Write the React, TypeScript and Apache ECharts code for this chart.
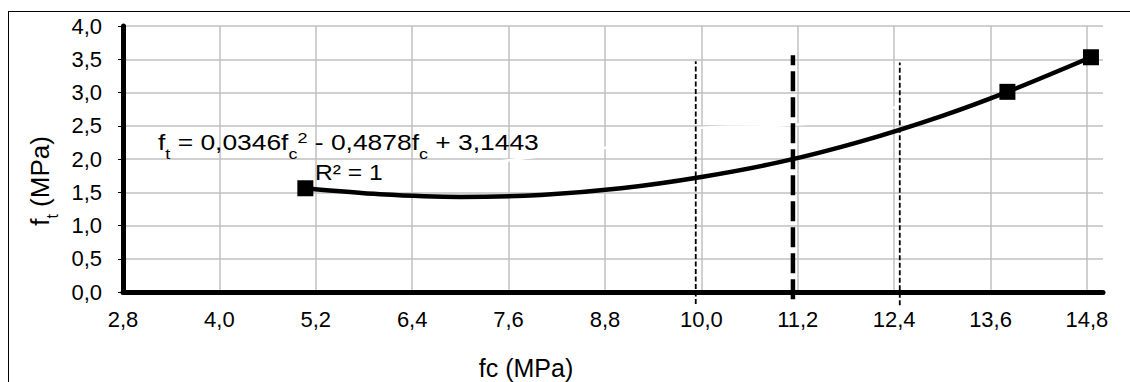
import React, { useEffect, useRef } from "react";
import * as echarts from "echarts";

const FONT = "'Liberation Sans', Arial, sans-serif";

// x tick labels (MPa)
const xTicks = [2.8, 4.0, 5.2, 6.4, 7.6, 8.8, 10.0, 11.2, 12.4, 13.6, 14.8];
// measured points
const pointsX = [5.07, 13.81, 14.85];
const pointsY = [1.56, 3.01, 3.53];
// trend curve
const trendX = [5.07, 6.0, 7.0, 8.0, 9.0, 10.0, 11.0, 12.0, 13.0, 13.81, 14.85];
const trendY = [1.56, 1.47, 1.43, 1.46, 1.56, 1.73, 1.96, 2.27, 2.65, 3.01, 3.53];
// vertical reference lines
const refX = [9.93, 11.14, 12.47];
const refTop = [3.47, 3.56, 3.45];
const refBottom = [-0.18, -0.11, -0.2];
// faint white line crossing the grid
const whiteX = [6.41, 7.6, 8.81, 9.99, 11.11, 12.48];
const whiteY = [1.76, 1.98, 2.17, 2.47, 2.51, 2.8];

const fmt = (v: number) => v.toFixed(1).replace(".", ",");

export default function App() {
  const ref = useRef<HTMLDivElement>(null);
  useEffect(() => {
    if (!ref.current) return;
    const chart = echarts.init(ref.current, null, { renderer: "svg" });
    const refSeries = refX.map((x, i) => ({
      type: "line",
      data: [
        [x, refBottom[i]],
        [x, refTop[i]],
      ],
      symbol: "none",
      clip: false,
      silent: true,
      z: 3,
      lineStyle: i === 1
        ? { color: "#000", width: 4.5, type: [20, 6] }
        : { color: "#000", width: 1.8, type: [5, 2.5] },
    }));
    const gridLine = { show: true, lineStyle: { color: "#c0c0c0", width: 1.5, type: "solid" } };
    chart.setOption({
      animation: false,
      grid: { left: 123, right: 27, top: 26, bottom: 90 },
      xAxis: {
        type: "value",
        min: 2.8,
        max: 15.0,
        axisLine: { show: true, onZero: false, lineStyle: { color: "#000", width: 5 } },
        axisTick: { show: false, customValues: xTicks },
        axisLabel: {
          customValues: xTicks,
          formatter: fmt,
          fontSize: 22,
          fontFamily: FONT,
          color: "#000",
          margin: 16,
        },
        splitLine: gridLine,
      },
      yAxis: {
        type: "value",
        min: 0,
        max: 4,
        interval: 0.5,
        axisLine: { show: true, onZero: false, lineStyle: { color: "#000", width: 5 } },
        axisLabel: {
          formatter: fmt,
          fontSize: 22,
          fontFamily: FONT,
          color: "#000",
          margin: 21,
        },
        splitLine: gridLine,
      },
      series: [
        {
          type: "line",
          data: whiteX.map((x, i) => [x, whiteY[i]]),
          symbol: "none",
          smooth: true,
          silent: true,
          z: 2,
          lineStyle: { color: "#ffffff", width: 2.5 },
        },
        ...refSeries,
        {
          type: "line",
          data: trendX.map((x, i) => [x, trendY[i]]),
          symbol: "none",
          smooth: 0.3,
          silent: true,
          z: 4,
          lineStyle: { color: "#000", width: 4.5 },
        },
        {
          type: "scatter",
          data: pointsX.map((x, i) => [x, pointsY[i]]),
          symbol: "rect",
          symbolSize: 16,
          z: 5,
          itemStyle: { color: "#000", opacity: 1 },
        },
      ],
      graphic: [
        {
          type: "text",
          x: 158,
          y: 142,
          scaleX: 1.2,
          z: 10,
          style: {
            text: "{m|f}{s|t}{m| = 0,0346f}{s|c}{p|2}{m| - 0,4878f}{s|c}{m| + 3,1443}",
            align: "left",
            verticalAlign: "middle",
            rich: {
              m: { fontSize: 22, fontFamily: FONT, fill: "#000", lineHeight: 40 },
              s: { fontSize: 15, fontFamily: FONT, fill: "#000", lineHeight: 18, verticalAlign: "bottom" },
              p: { fontSize: 15, fontFamily: FONT, fill: "#000", padding: [0, 0, 7, 0] },
            },
          },
        },
        {
          type: "text",
          x: 315,
          y: 172,
          scaleX: 1.12,
          z: 10,
          style: {
            text: "R² = 1",
            align: "left",
            verticalAlign: "middle",
            fontSize: 22,
            fontFamily: FONT,
            fill: "#000",
          },
        },
        {
          type: "text",
          x: 526,
          y: 368,
          style: {
            text: "fc (MPa)",
            align: "center",
            verticalAlign: "middle",
            fontSize: 25,
            fontFamily: FONT,
            fill: "#000",
          },
        },
        {
          type: "text",
          x: 40,
          y: 181,
          rotation: Math.PI / 2,
          style: {
            text: "{m|f}{s|t}{m| (MPa)}",
            align: "center",
            verticalAlign: "middle",
            rich: {
              m: { fontSize: 26, fontFamily: FONT, fill: "#000", lineHeight: 40 },
              s: { fontSize: 16, fontFamily: FONT, fill: "#000", lineHeight: 18, verticalAlign: "bottom" },
            },
          },
        },
      ],
    });
    return () => chart.dispose();
  }, []);
  return (
    <div style={{ position: "absolute", left: 0, top: 0, width: 1130, height: 382, overflow: "hidden" }}>
      <div
        style={{
          position: "absolute",
          left: 8,
          top: 11,
          width: 1200,
          height: 500,
          borderLeft: "1px solid #000",
          borderTop: "1px solid #000",
        }}
      />
      <div ref={ref} style={{ position: "absolute", left: 0, top: 0, width: 1130, height: 382 }} />
    </div>
  );
}
